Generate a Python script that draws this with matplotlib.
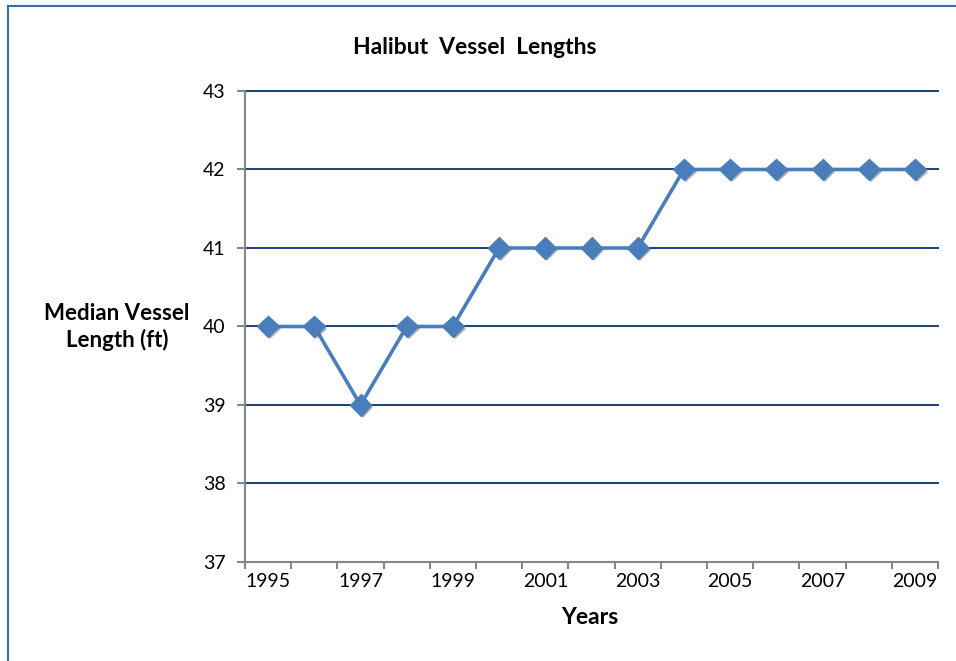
import matplotlib
matplotlib.use("Agg")
import matplotlib.pyplot as plt
import matplotlib.patheffects as pe
import numpy as np

# data
years = [1995, 1996, 1997, 1998, 1999, 2000, 2001, 2002, 2003, 2004,
         2005, 2006, 2007, 2008, 2009]
median_length = [40, 40, 39, 40, 40, 41, 41, 41, 41, 42, 42, 42, 42, 42, 42]
y_ticks = [37, 38, 39, 40, 41, 42, 43]

plt.rcParams['font.family'] = ['Lato', 'DejaVu Sans']

fig = plt.figure(figsize=(9.56, 6.61), dpi=100)
ax = fig.add_axes([245 / 956, 1 - 562 / 661, 693 / 956, 471 / 661])

x = np.arange(len(years))
line_blue = '#4A7EBB'
ax.plot(x, median_length, color=line_blue, lw=2.6, zorder=3)
ax.plot(x, median_length, ls='none', marker='D', ms=11, color=line_blue,
        mec=line_blue, zorder=4,
        path_effects=[pe.SimplePatchShadow(offset=(1.5, -1.5), shadow_rgbFace='#555555', alpha=0.45),
                      pe.Normal()])

ax.set_xlim(-0.5, len(years) - 0.5)
ax.set_ylim(37, 43)
ax.set_yticks(y_ticks)
ax.yaxis.grid(True, color='#1F3F73', lw=1.4)
for gl in ax.get_ygridlines():
    gl.set_clip_on(False)
ax.set_axisbelow(True)

# category axis: tick marks on the boundaries, labels every other year
ax.set_xticks(x[::2])
ax.set_xticklabels([str(y) for y in years[::2]])
ax.set_xticks(np.arange(-0.5, len(years), 1), minor=True)
ax.tick_params(axis='x', which='major', length=0, pad=8, labelsize=14)
ax.tick_params(axis='x', which='minor', length=5, color='#868686', width=1.5, direction='out')
ax.tick_params(axis='y', length=6, color='#868686', width=1.5, pad=8, labelsize=14)

for s in ['top', 'right']:
    ax.spines[s].set_visible(False)
for s in ['left', 'bottom']:
    ax.spines[s].set_color('#868686')
    ax.spines[s].set_linewidth(1.5)

fig.text(475 / 956, 1 - 47 / 661, 'Halibut  Vessel  Lengths', ha='center', va='center',
         fontsize=16.5, fontweight='bold')
fig.text(117 / 956, 1 - 327 / 661, 'Median Vessel\nLength (ft)', ha='center', va='center',
         fontsize=16, fontweight='bold', linespacing=1.3)
fig.text(590 / 956, 1 - 617 / 661, 'Years', ha='center', va='center',
         fontsize=16.5, fontweight='bold')

# chart border (only left and top edges show in the crop)
fig.add_artist(plt.Line2D([8 / 956, 8 / 956], [0, 1 - 6 / 661], color='#3F68A8', lw=1.5))
fig.add_artist(plt.Line2D([8 / 956, 1], [1 - 6 / 661, 1 - 6 / 661], color='#3F68A8', lw=1.5))

fig.savefig('out.png', dpi=100)
